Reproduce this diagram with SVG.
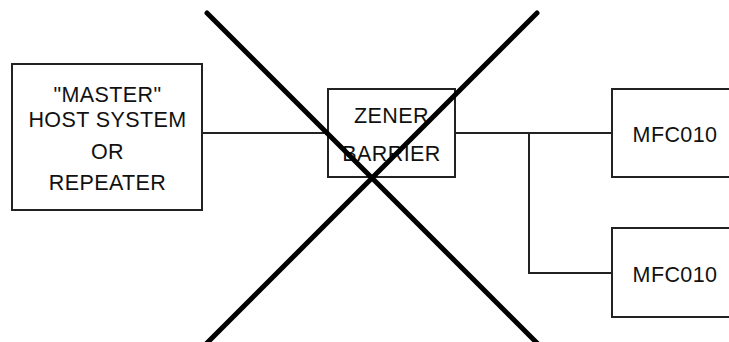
<svg xmlns="http://www.w3.org/2000/svg" width="729" height="342" viewBox="0 0 729 342">
<style>
.box{fill:#fff;stroke:#222;stroke-width:2}
.conn{fill:none;stroke:#222;stroke-width:2}
.t{font-family:"Liberation Sans",Arial,sans-serif;font-size:21.5px;letter-spacing:0.4px;fill:#111;text-anchor:middle}
.x{stroke:#000;stroke-width:5;stroke-linecap:round;fill:none}
</style>
<rect width="729" height="342" fill="#fff"/>
<g id="connectors">
<line class="conn" x1="202" y1="133" x2="328" y2="133"/>
<line class="conn" x1="455" y1="133" x2="612" y2="133"/>
<polyline class="conn" points="529,133 529,273 612,273"/>
</g>
<g id="host">
<rect class="box" x="12" y="64" width="190" height="146"/>
<text class="t" x="107.5" y="102">"MASTER"</text>
<text class="t" x="107.5" y="127">HOST SYSTEM</text>
<text class="t" x="107.5" y="158.5">OR</text>
<text class="t" x="107.5" y="190">REPEATER</text>
</g>
<g id="zener">
<rect class="box" x="328" y="89" width="127" height="88"/>
<text class="t" x="391.5" y="123">ZENER</text>
<text class="t" x="391.5" y="161">BARRIER</text>
</g>
<g id="mfc1">
<rect class="box" x="612" y="89" width="130" height="88"/>
<text class="t" x="675" y="142">MFC010</text>
</g>
<g id="mfc2">
<rect class="box" x="612" y="228" width="130" height="89"/>
<text class="t" x="675" y="282">MFC010</text>
</g>
<g id="cross">
<line class="x" x1="207" y1="13" x2="540" y2="346"/>
<line class="x" x1="537" y1="13" x2="204" y2="346"/>
</g>
</svg>
